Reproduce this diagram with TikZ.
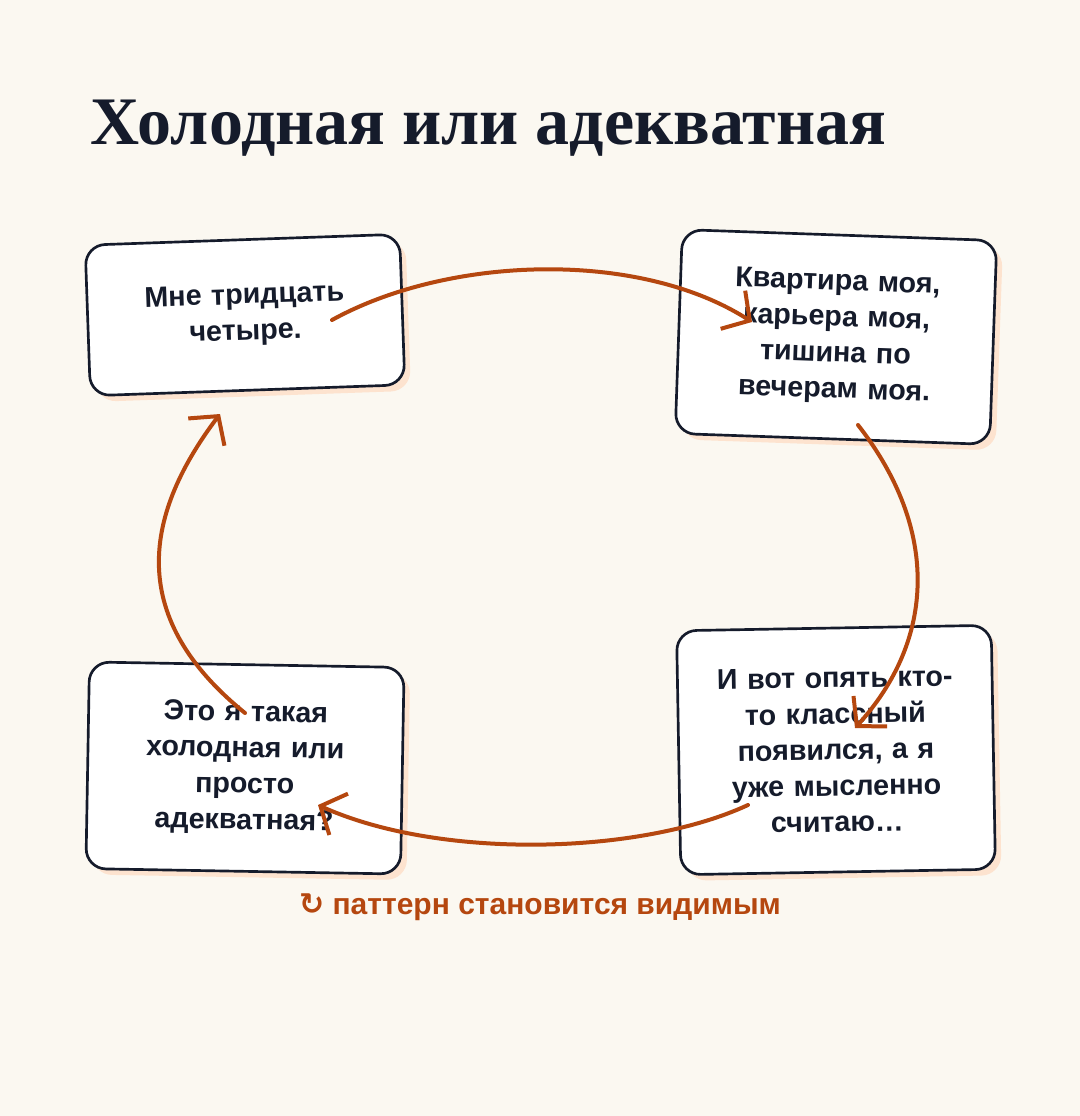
\documentclass[tikz,border=0pt]{standalone}
\usepackage{fontspec}
\setmainfont{Liberation Sans}
\newfontfamily\titlefont{Liberation Serif}
\newfontfamily\symfont{DejaVu Sans}
\usetikzlibrary{positioning, arrows.meta, calc}
\definecolor{paper}{HTML}{FBF8F1}
\definecolor{ink}{HTML}{151B2B}
\definecolor{rust}{HTML}{B5470F}
\definecolor{peach}{HTML}{FDE3CF}
\tikzset{
	x=0.75pt, y=-0.75pt,
	card/.style={draw=ink, line width=2pt, fill=white, rounded corners=15pt,
		minimum width=236pt, align=center, text width=180pt,
		font=\bfseries\fontsize{21.5}{27}\selectfont, text=ink},
	shade/.style={fill=peach, rounded corners=15pt, minimum width=236pt},
	loop/.style={draw=rust, line width=3pt, line cap=round,
		-{Straight Barb[length=15pt, width=34pt, line width=3pt]}},
}
\begin{document}
\begin{tikzpicture}
	\fill[paper] (0,0) rectangle (1080,1116);
	\useasboundingbox (0,0) rectangle (1080,1116);
	\node[anchor=base west, font=\titlefont\bfseries\fontsize{51}{57}\selectfont, text=ink] (title) at (86,145) {Холодная или адекватная};

	% cards with shadow
	\node[shade, minimum height=113pt, rotate=2] at (251,321) {};
	\node[card, minimum height=113pt, rotate=2] (age) at (245,315) {Мне тридцать\\четыре.};
	\node[shade, minimum height=153pt, rotate=-2] at (842,343) {};
	\node[card, minimum height=153pt, rotate=-2] (mine) at (836,337) {Квартира моя,\\карьера моя,\\тишина по\\вечерам моя.};
	\node[shade, minimum height=183pt, rotate=1] at (842,756) {};
	\node[card, minimum height=183pt, rotate=1] (again) at (836,750) {И вот опять кто-\\то классный\\появился, а я\\уже мысленно\\считаю…};
	\node[shade, minimum height=155pt, rotate=-1] at (251,774) {};
	\node[card, minimum height=155pt, rotate=-1] (cold) at (245,768) {Это я такая\\холодная или\\просто\\адекватная?};

	% ends of the loop
	\coordinate (a1) at (332,320);
	\coordinate (a2) at (752,322);
	\coordinate (b1) at (858,425);
	\coordinate (b2) at (855,728);
	\coordinate (c1) at (748,805);
	\coordinate (c2) at (318,805);
	\coordinate (d1) at (245,713);
	\coordinate (d2) at (220,414);

	\draw[loop] (a1) .. controls (450,255) and (640,250) .. (a2);
	\draw[loop] (b1) .. controls (940,530) and (935,640) .. (b2);
	\draw[loop] (c1) .. controls (640,855) and (440,860) .. (c2);
	\draw[loop] (d1) .. controls (130,620) and (140,520) .. (d2);

	\node[font=\bfseries\fontsize{22.5}{26}\selectfont, text=rust] (caption) at (540,907) {{\symfont ↻} паттерн становится видимым};
\end{tikzpicture}
\end{document}
